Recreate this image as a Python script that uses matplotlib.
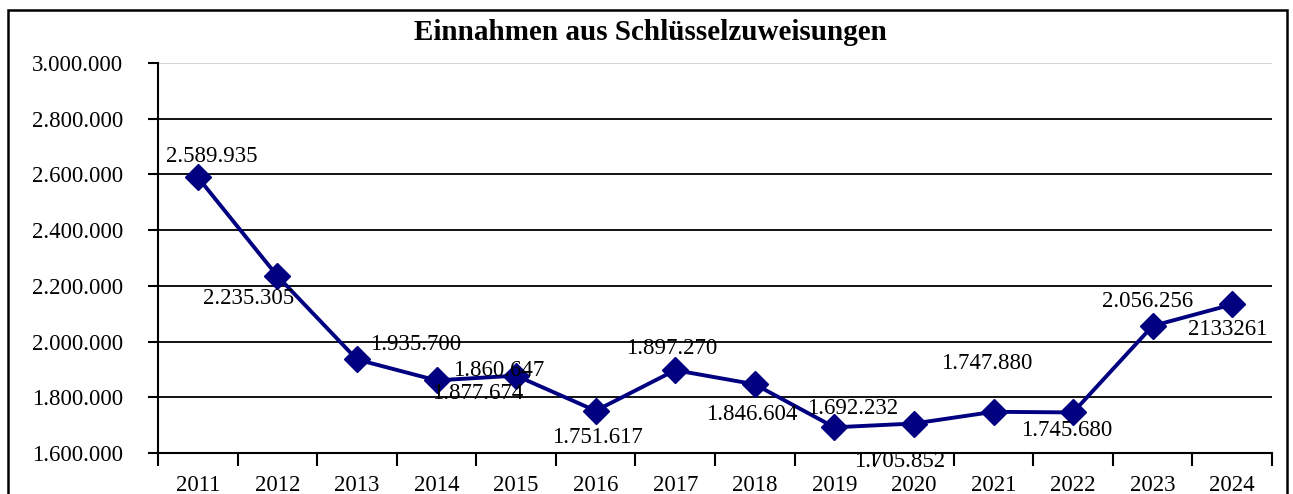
import matplotlib
matplotlib.use("Agg")
from matplotlib import pyplot as plt
from matplotlib.patches import Rectangle

years = ['2011', '2012', '2013', '2014', '2015', '2016', '2017',
         '2018', '2019', '2020', '2021', '2022', '2023', '2024']
values = [2589935, 2235305, 1935700, 1860647, 1877674, 1751617, 1897270,
          1846604, 1692232, 1705852, 1747880, 1745680, 2056256, 2133261]
# label texts exactly as printed in the chart
labels = ['2.589.935', '2.235.305', '1.935.700', '1.877.674', '1.860.647',
          '1.751.617', '1.897.270', '1.846.604', '1.692.232', '1.705.852',
          '1.747.880', '1.745.680', '2.056.256', '2133261']
# label offsets in pixels (dx, dy) relative to the marker
offsets = [(14, 21), (-29, -22), (59, 15), (41, -13), (-17, 5), (2, -27),
           (-4, 22), (-3, -30), (18, 19), (-14, -38), (-7, 48), (-6, -18),
           (-5, 24), (-5, -25)]

W, H = 1293, 494
fig = plt.figure(figsize=(W / 100, H / 100), dpi=100)
ax = fig.add_axes([158 / W, 1 - 453 / H, (1272 - 158) / W, (453 - 63) / H])

# frame around the whole chart
fig.patches.append(Rectangle((8 / W, -0.1), (1287 - 8) / W, 1 - 10 / H + 0.1,
                             transform=fig.transFigure, fill=False,
                             edgecolor='black', linewidth=1.8))

serif = ['Liberation Serif', 'DejaVu Serif']
fs = 16.5
x = list(range(len(years)))

for yv in range(1800000, 3000000, 200000):
    ax.axhline(yv, color='black', linewidth=1.3, zorder=1)
ax.axhline(3000000, color='#d0d0d0', linewidth=1.3, zorder=1)

ax.plot(x, values, color='#000080', linewidth=2.8, marker='D',
        markersize=13, zorder=3, clip_on=False)

for xi, v, lab, (dx, dy) in zip(x, values, labels, offsets):
    ax.annotate(lab, (xi, v), xytext=(dx, dy), textcoords='offset pixels',
                ha='center', va='center', fontsize=fs, family=serif,
                color='black', annotation_clip=False, zorder=4)

ax.set_xlim(-0.5, len(years) - 0.5)
ax.set_ylim(1600000, 3000000)
yt = list(range(1600000, 3000001, 200000))
ax.set_yticks(yt)
ax.set_yticklabels(['{:,}'.format(v).replace(',', '.') for v in yt],
                   family=serif, fontsize=fs)
ax.set_xticks(x)
ax.set_xticklabels(years, family=serif, fontsize=fs)
ax.set_xticks([i - 0.5 for i in range(len(years) + 1)], minor=True)
ax.tick_params(axis='x', which='major', length=0, pad=16)
ax.tick_params(axis='x', which='minor', length=9, width=1.5, direction='out')
ax.tick_params(axis='y', length=7, width=1.5, pad=18, direction='out')

for s in ['top', 'right']:
    ax.spines[s].set_visible(False)
for s in ['left', 'bottom']:
    ax.spines[s].set_linewidth(1.5)

fig.text(650 / W, 1 - 33 / H, 'Einnahmen aus Schlüsselzuweisungen',
         ha='center', va='center', fontsize=21, fontweight='bold',
         family=serif)

fig.savefig('out.png', dpi=100)
